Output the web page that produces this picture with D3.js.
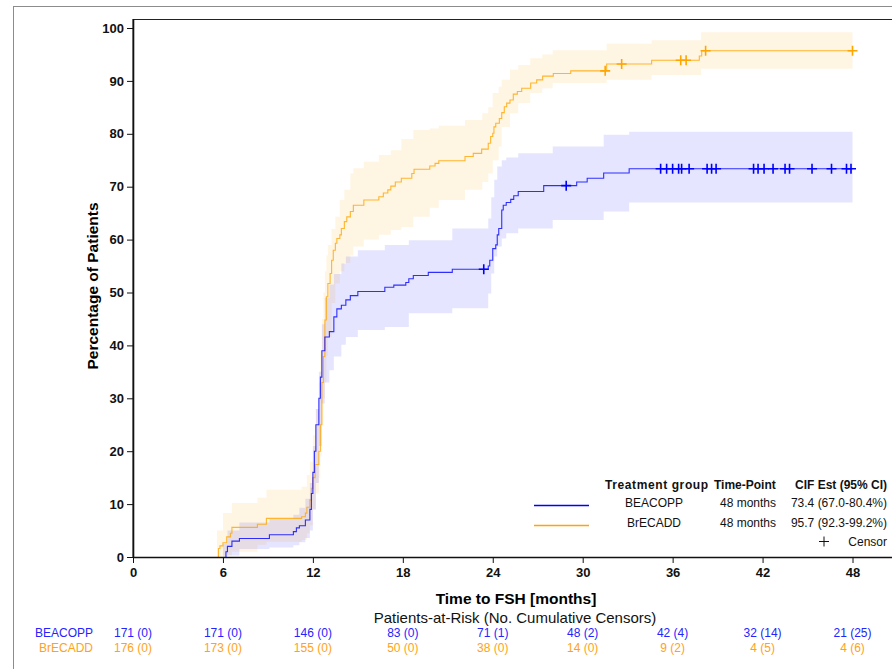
<!DOCTYPE html>
<html>
<head>
<meta charset="utf-8">
<script src="https://cdn.jsdelivr.net/npm/d3@7/dist/d3.min.js"></script>
<style>
  body { margin: 0; background: #fff; }
  svg { display: block; font-family: "Liberation Sans", Arial, sans-serif; }
</style>
</head>
<body>
<svg id="chart" width="892" height="669"></svg>
<script>
// ---- data (months, cumulative incidence %) ----
const groups = ['BEACOPP', 'BrECADD'];
const xTicks = [0, 6, 12, 18, 24, 30, 36, 42, 48];
const yTicks = [0, 10, 20, 30, 40, 50, 60, 70, 80, 90, 100];

const beacoppTime = [6.2, 6.3, 6.6, 7.1, 9.1, 10.7, 10.9, 11.1, 11.5, 11.8, 11.9, 12.0, 12.1, 12.2, 12.4, 12.5, 12.6, 12.8, 13.1, 13.4, 13.6, 13.9, 14.2, 14.5, 15.0, 16.8, 17.4, 18.2, 18.4, 18.7, 19.7, 21.3, 23.7, 23.8, 24.0, 24.2, 24.3, 24.4, 24.6, 24.7, 24.9, 25.2, 25.4, 25.7, 27.4, 29.6, 30.3, 31.4, 33.1];
const beacoppCif  = [1.0, 2.0, 3.0, 3.5, 4.2, 4.8, 5.5, 5.9, 7.0, 9.0, 12.0, 16.0, 20.0, 25.0, 30.0, 34.0, 39.0, 41.6, 42.6, 45.4, 46.9, 47.6, 48.6, 49.4, 50.2, 51.0, 51.4, 51.9, 52.6, 53.2, 53.8, 54.4, 55.0, 56.1, 58.3, 59.0, 60.9, 62.1, 65.6, 66.5, 67.0, 67.6, 68.3, 69.1, 70.2, 70.9, 71.6, 72.6, 73.4];
const beacoppCensor = [23.4, 28.9, 35.2, 35.6, 36.0, 36.4, 36.6, 37.1, 38.3, 38.6, 38.9, 41.4, 41.7, 42.1, 42.7, 43.5, 43.8, 45.3, 46.6, 47.6, 47.9];

const beacoppBandTime = [6.0, 6.3, 7.1, 9.1, 10.7, 11.1, 11.5, 11.8, 12.0, 12.2, 12.4, 12.6, 12.8, 13.1, 13.4, 13.9, 14.2, 15.0, 16.8, 18.4, 21.3, 23.7, 23.9, 24.1, 24.3, 24.6, 24.9, 25.7, 28.0, 31.4, 33.1];
const beacoppLower = [0, 0.3, 1.5, 1.8, 2.2, 2.8, 3.6, 5.0, 9.0, 14.0, 21.0, 29.0, 33.0, 35.3, 37.9, 40.1, 41.6, 42.9, 43.5, 46.1, 47.0, 49.8, 53.6, 56.8, 58.7, 60.2, 61.2, 62.1, 63.7, 65.3, 67.0];
const beacoppUpper = [2.5, 5.0, 6.5, 7.2, 8.0, 9.3, 11.0, 14.0, 21.0, 28.0, 35.0, 44.0, 49.0, 51.5, 53.5, 55.5, 56.8, 58.0, 59.0, 59.9, 62.1, 64.0, 68.0, 71.3, 73.8, 75.0, 75.5, 76.3, 77.6, 79.8, 80.4];

const brecaddTime = [5.7, 5.8, 6.0, 6.25, 6.5, 6.6, 8.3, 8.9, 11.25, 11.5, 11.6, 11.8, 11.9, 12.0, 12.15, 12.4, 12.5, 12.6, 12.7, 12.8, 12.9, 13.0, 13.15, 13.25, 13.36, 13.5, 13.6, 13.8, 13.9, 14.1, 14.26, 14.5, 14.7, 15.4, 16.4, 16.7, 17.0, 17.2, 17.5, 17.9, 18.6, 18.75, 19.8, 20.15, 20.4, 22.15, 22.7, 23.26, 23.7, 23.86, 24.0, 24.08, 24.2, 24.44, 24.6, 24.77, 24.93, 25.15, 25.37, 25.64, 25.93, 26.53, 26.93, 27.33, 28.04, 29.2, 31.6, 34.6, 37.78, 37.94];
const brecaddCif  = [1.6, 2.1, 2.7, 3.8, 4.5, 5.6, 6.2, 7.3, 7.6, 8.3, 9.4, 10.8, 13.0, 15.0, 17.5, 20.0, 25.0, 33.0, 37.9, 44.8, 49.2, 51.7, 53.6, 56.1, 58.0, 59.3, 60.2, 60.9, 62.1, 63.4, 64.3, 65.3, 66.5, 67.5, 68.1, 68.8, 69.4, 70.1, 70.9, 71.6, 72.5, 73.3, 73.9, 74.4, 74.9, 75.7, 76.3, 77.1, 78.2, 79.5, 80.1, 81.3, 82.0, 82.9, 84.0, 85.1, 85.8, 86.4, 87.5, 88.0, 88.6, 89.6, 90.2, 90.9, 91.4, 91.9, 93.2, 93.9, 94.7, 95.7];
const brecaddCensor = [31.5, 32.6, 36.54, 36.9, 38.2, 48.0];

const brecaddBandTime = [5.6, 6.0, 6.6, 8.3, 8.9, 11.25, 11.6, 11.8, 12.0, 12.2, 12.4, 12.5, 12.6, 12.7, 12.8, 12.9, 13.0, 13.25, 13.5, 13.8, 14.1, 14.5, 14.7, 15.4, 16.4, 17.2, 17.9, 18.7, 19.8, 20.4, 22.15, 23.3, 23.7, 24.0, 24.4, 24.6, 25.15, 25.7, 26.5, 27.3, 28.0, 31.6, 34.6, 37.9];
const brecaddLower = [0, 0.3, 1.0, 2.3, 2.9, 3.2, 4.5, 6.0, 9.0, 12.0, 15.0, 19.0, 25.0, 30.0, 33.0, 38.0, 41.6, 48.0, 51.7, 54.0, 55.6, 57.0, 58.7, 60.0, 60.9, 61.8, 62.4, 64.3, 66.0, 67.5, 69.4, 70.9, 72.5, 75.0, 77.6, 81.3, 83.9, 85.8, 87.7, 88.6, 89.6, 90.2, 91.1, 92.3];
const brecaddUpper = [5.0, 8.3, 10.2, 11.2, 12.7, 13.3, 15.5, 18.0, 23.0, 28.0, 33.0, 39.0, 45.0, 50.0, 54.0, 57.0, 59.0, 62.0, 64.3, 67.5, 69.4, 72.5, 73.5, 74.7, 76.0, 76.9, 79.0, 80.7, 81.0, 81.5, 82.6, 83.9, 85.0, 87.7, 88.9, 90.2, 92.1, 93.0, 94.3, 95.0, 95.8, 97.0, 97.7, 99.2];

const timePoint = ['48 months', '48 months'];
const cifEst = ['73.4 (67.0-80.4%)', '95.7 (92.3-99.2%)'];

const beacoppAtRisk = [171, 171, 146, 83, 71, 48, 42, 32, 21];
const beacoppCens   = [0, 0, 0, 0, 1, 2, 4, 14, 25];
const brecaddAtRisk = [176, 173, 155, 50, 38, 14, 9, 4, 4];
const brecaddCens   = [0, 0, 0, 0, 0, 0, 2, 5, 6];

// ---- layout ----
const lineColors = ['#0000ff', '#ffa500'];
const textColors = ['#2424ff', '#ffa21a'];
const svg = d3.select('#chart');

const plot = { left: 133, top: 19, right: 899, bottom: 557 };
const x = d3.scaleLinear().domain([0, 48]).range([133, 852.5]);
const y = d3.scaleLinear().domain([0, 100]).range([557, 28]);

// outer border
svg.append('rect')
  .attr('x', 13.5).attr('y', 6.5)
  .attr('width', 900).attr('height', 700)
  .attr('fill', 'none').attr('stroke', '#8c8c8c');

// plot frame
svg.append('rect')
  .attr('x', plot.left).attr('y', plot.top + 0.5)
  .attr('width', plot.right - plot.left).attr('height', plot.bottom - plot.top)
  .attr('fill', 'none').attr('stroke', '#222');

function toRows(ts, vs) { return ts.map((t, i) => ({ t, v: vs[i] })); }

function bandRows(ts, lo, hi) {
  const rows = ts.map((t, i) => ({ t, lo: lo[i], hi: hi[i] }));
  const last = rows[rows.length - 1];
  rows.push({ t: 48, lo: last.lo, hi: last.hi });
  return rows;
}

const area = d3.area()
  .curve(d3.curveStepAfter)
  .x(d => x(d.t)).y0(d => y(d.lo)).y1(d => y(d.hi));

const bands = [
  bandRows(beacoppBandTime, beacoppLower, beacoppUpper),
  bandRows(brecaddBandTime, brecaddLower, brecaddUpper)
];
const bandFill = ['rgba(0,0,255,0.1)', 'rgba(255,165,0,0.11)'];
[1, 0].forEach(i => {
  svg.append('path')
    .attr('d', area(bands[i]))
    .attr('fill', bandFill[i]);
});

const line = d3.line()
  .curve(d3.curveStepAfter)
  .x(d => x(d.t)).y(d => y(d.v));

function curveRows(ts, vs) {
  const rows = [{ t: ts[0], v: 0 }].concat(toRows(ts, vs));
  rows.push({ t: 48, v: vs[vs.length - 1] });
  return rows;
}
const curves = [curveRows(beacoppTime, beacoppCif), curveRows(brecaddTime, brecaddCif)];
const censors = [beacoppCensor, brecaddCensor];

function valueAt(rows, t) {
  let v = 0;
  rows.forEach(r => { if (r.t <= t) v = r.v; });
  return v;
}

[1, 0].forEach(i => {
  svg.append('path')
    .attr('d', line(curves[i]))
    .attr('fill', 'none')
    .attr('stroke', lineColors[i])
    .attr('stroke-width', 1.1)
    .attr('stroke-opacity', 0.8);

  svg.append('g').selectAll('path')
    .data(censors[i])
    .enter()
    .append('path')
    .attr('d', t => {
      const cx = x(t), cy = y(valueAt(curves[i], t));
      return `M${cx - 5},${cy}H${cx + 5}M${cx},${cy - 5}V${cy + 5}`;
    })
    .attr('stroke', lineColors[i])
    .attr('stroke-width', 1.6);
});

// axes
const yAxis = svg.append('g')
  .attr('transform', `translate(${plot.left},0)`)
  .call(d3.axisLeft(y).tickValues(yTicks).tickSize(6).tickPadding(3));
yAxis.select('.domain').remove();

const xAxis = svg.append('g')
  .attr('transform', `translate(0,${plot.bottom})`)
  .call(d3.axisBottom(x).tickValues(xTicks).tickSize(6).tickPadding(5));
xAxis.select('.domain').remove();

svg.selectAll('.tick text')
  .attr('font-size', 13)
  .attr('font-weight', 'bold')
  .attr('font-family', '"Liberation Sans", Arial, sans-serif')
  .attr('fill', '#111');
svg.selectAll('.tick line').attr('stroke', '#111');

svg.append('line')
  .attr('x1', plot.left).attr('x2', plot.right)
  .attr('y1', plot.bottom + 0.5).attr('y2', plot.bottom + 0.5)
  .attr('stroke', '#111').attr('stroke-width', 1.6);
svg.append('line')
  .attr('x1', plot.left + 0.5).attr('x2', plot.left + 0.5)
  .attr('y1', plot.top).attr('y2', plot.bottom)
  .attr('stroke', '#111').attr('stroke-width', 1.6);

// y title, cut at the top as in the original output
svg.append('clipPath').attr('id', 'ytitle-clip')
  .append('rect').attr('x', 70).attr('y', 201).attr('width', 40).attr('height', 300);
svg.append('g')
  .attr('clip-path', 'url(#ytitle-clip)')
  .append('text')
  .attr('transform', `translate(98,${(plot.top + plot.bottom) / 2 - 2}) rotate(-90)`)
  .attr('text-anchor', 'middle')
  .attr('font-size', 15.5).attr('font-weight', 'bold')
  .text('Percentage of Patients');

svg.append('text')
  .attr('x', 516).attr('y', 604)
  .attr('text-anchor', 'middle')
  .attr('font-size', 15.5).attr('font-weight', 'bold')
  .text('Time to FSH [months]');

// legend
const lg = svg.append('g').attr('font-size', 12).attr('fill', '#111');
lg.append('text').attr('x', 605).attr('y', 489)
  .attr('font-weight', 'bold').attr('letter-spacing', 0.6).text('Treatment group');
lg.append('text').attr('x', 714).attr('y', 489)
  .attr('font-weight', 'bold').text('Time-Point');
lg.append('text').attr('x', 887).attr('y', 489).attr('text-anchor', 'end')
  .attr('font-weight', 'bold').text('CIF Est (95% CI)');

const legendY = [507, 527];
groups.forEach((g, i) => {
  lg.append('line')
    .attr('x1', 534).attr('x2', 589)
    .attr('y1', legendY[i] - 1.5).attr('y2', legendY[i] - 1.5)
    .attr('stroke', lineColors[i]).attr('stroke-width', 1.4);
  lg.append('text').attr('x', 654).attr('y', legendY[i])
    .attr('text-anchor', 'middle').text(g);
  lg.append('text').attr('x', 776).attr('y', legendY[i])
    .attr('text-anchor', 'end').text(timePoint[i]);
  lg.append('text').attr('x', 887).attr('y', legendY[i])
    .attr('text-anchor', 'end').text(cifEst[i]);
});
lg.append('text').attr('x', 887).attr('y', 546)
  .attr('text-anchor', 'end').text('Censor');
lg.append('path')
  .attr('d', 'M819,541.5H829M824,536.5V546.5')
  .attr('stroke', '#111').attr('stroke-width', 1);

// patients at risk
svg.append('text')
  .attr('x', 515).attr('y', 623)
  .attr('text-anchor', 'middle')
  .attr('font-size', 15).attr('fill', '#111')
  .text('Patients-at-Risk (No. Cumulative Censors)');

const riskRows = [
  { atRisk: beacoppAtRisk, cens: beacoppCens, y: 637 },
  { atRisk: brecaddAtRisk, cens: brecaddCens, y: 652 }
];
riskRows.forEach((r, i) => {
  svg.append('text')
    .attr('x', 93).attr('y', r.y)
    .attr('text-anchor', 'end')
    .attr('font-size', 12).attr('fill', textColors[i])
    .text(groups[i]);
  svg.append('g').selectAll('text')
    .data(xTicks)
    .enter()
    .append('text')
    .attr('x', d => x(d))
    .attr('y', r.y)
    .attr('text-anchor', 'middle')
    .attr('font-size', 12)
    .attr('fill', textColors[i])
    .text((d, j) => `${r.atRisk[j]} (${r.cens[j]})`);
});
</script>
</body>
</html>
